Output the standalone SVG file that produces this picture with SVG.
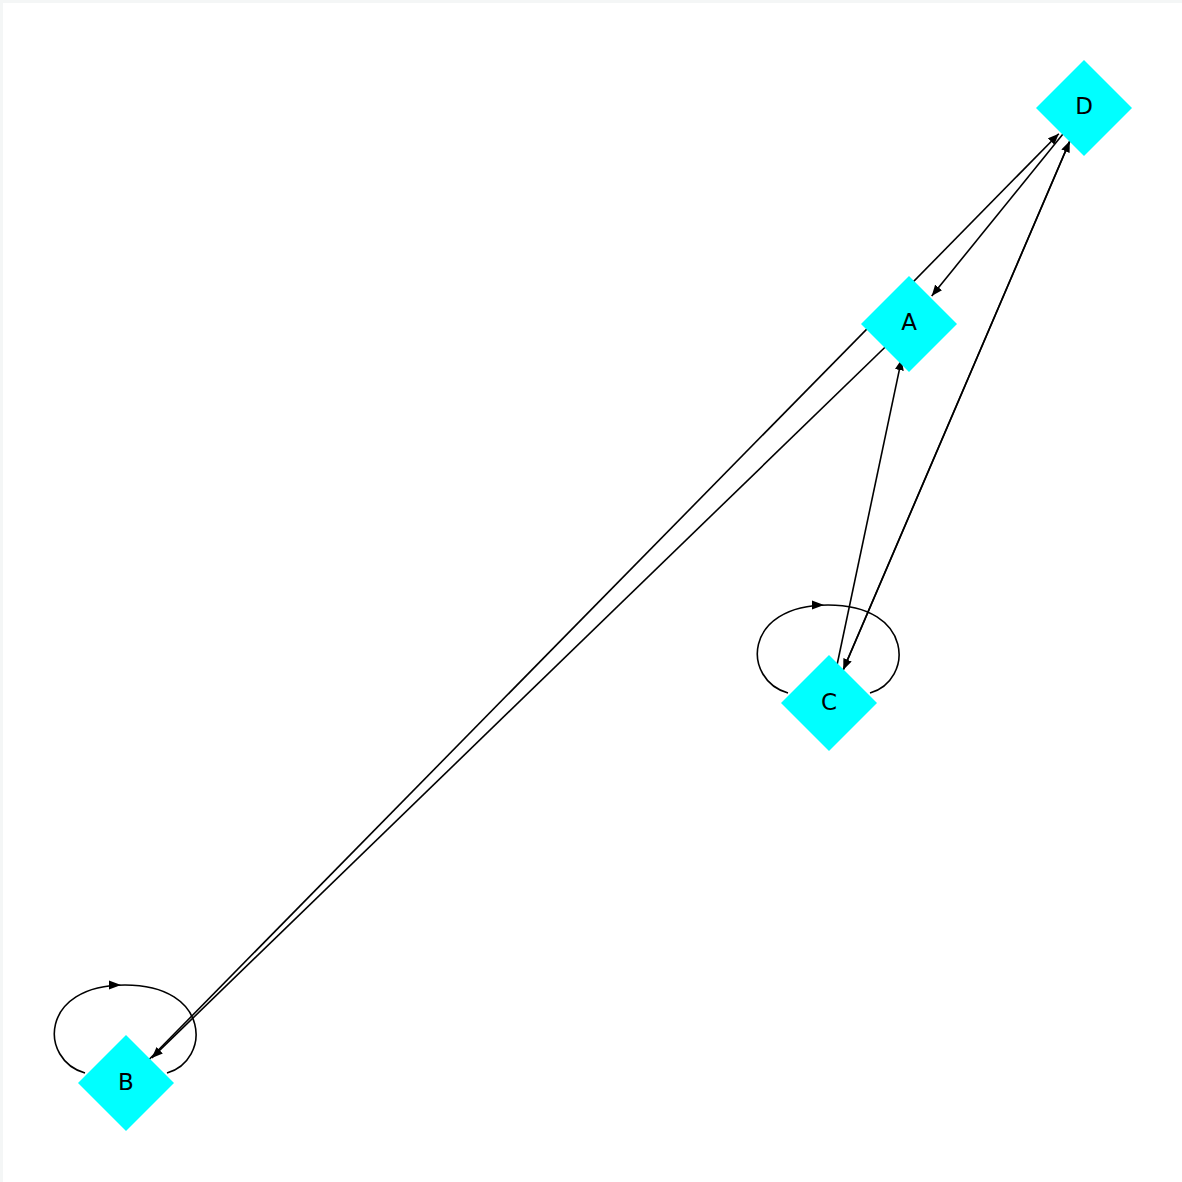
<svg xmlns="http://www.w3.org/2000/svg" width="1182" height="1182" viewBox="0 0 1182 1182">
<defs>
<style>
.edge{stroke:#000;stroke-width:1.6;fill:none}
.head{fill:#000}
.node{fill:#00ffff}
.label{font-family:"DejaVu Sans",sans-serif;font-size:23px;fill:#000;text-anchor:middle;dominant-baseline:central}
</style>
<marker id="arr" viewBox="0 0 11 9" markerWidth="11" markerHeight="9" refX="11" refY="4.5" orient="auto" markerUnits="userSpaceOnUse">
<path d="M0,0 L11,4.5 L0,9 z" fill="#000"/>
</marker>
<path id="loop" d="M-41,-10 C-87,-23 -87,-98 -1,-98 C85,-98 85,-23 41,-10"/>
<polygon id="loophead" points="-17,-102.5 -5,-98 -17,-93.5"/>
<polygon id="diamond" points="0,-48 48,0 0,48 -48,0"/>
</defs>
<rect x="0" y="0" width="1182" height="1182" fill="#f4f6f6"/>
<rect x="3" y="3" width="1179" height="1179" fill="#ffffff"/>
<g id="edges">
<line class="edge" x1="909" y1="324" x2="151.8" y2="1057.9" marker-end="url(#arr)"/>
<line class="edge" x1="126" y1="1083" x2="1058.8" y2="133.7" marker-end="url(#arr)"/>
<line class="edge" x1="1084" y1="108" x2="931.7" y2="296" marker-end="url(#arr)"/>
<line class="edge" x1="829" y1="703" x2="901.6" y2="359.2" marker-end="url(#arr)"/>
<line class="edge" x1="829" y1="703" x2="1069.8" y2="141.1" marker-end="url(#arr)"/>
<line class="edge" x1="1084" y1="108" x2="843.2" y2="669.9" marker-end="url(#arr)"/>
<g transform="translate(829,703)"><use href="#loop" class="edge"/><use href="#loophead" class="head"/></g>
<g transform="translate(126,1083)"><use href="#loop" class="edge"/><use href="#loophead" class="head"/></g>
</g>
<g id="node-A"><use href="#diamond" class="node" x="909" y="324"/><text class="label" x="909" y="322">A</text></g>
<g id="node-B"><use href="#diamond" class="node" x="126" y="1083"/><text class="label" x="126" y="1082">B</text></g>
<g id="node-C"><use href="#diamond" class="node" x="829" y="703"/><text class="label" x="829" y="702">C</text></g>
<g id="node-D"><use href="#diamond" class="node" x="1084" y="108"/><text class="label" x="1084" y="106">D</text></g>
</svg>
